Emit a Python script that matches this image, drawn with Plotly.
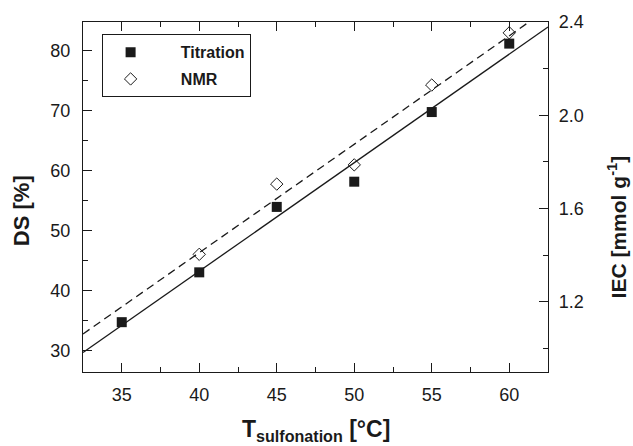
import numpy as np
import plotly.graph_objects as go

# ---- data ----
temps = [35, 40, 45, 50, 55, 60]
ds_titration = [34.8, 43.1, 54.0, 58.2, 69.8, 81.2]
nmr_temps = [40, 45, 50, 55, 60]
ds_nmr = [46.1, 57.8, 61.0, 74.3, 83.0]

x_range = [32.5, 62.5]
y_range = [26.5, 84.8]
y2_range = [0.898, 2.4]

x_ticks = [35, 40, 45, 50, 55, 60]
y_ticks = [30, 40, 50, 60, 70, 80]
y2_ticks = [1.2, 1.6, 2.0, 2.4]

# linear fits
fit_x = np.array(x_range)
p_t = np.polyfit(temps, ds_titration, 1)
p_n = np.polyfit(nmr_temps, ds_nmr, 1)

FONT = "Arial, Liberation Sans, Helvetica, sans-serif"
INK = "#1a1a1a"
PAD = "\u00a0" * 5

fig = go.Figure()
fig.add_trace(go.Scatter(x=fit_x, y=np.polyval(p_t, fit_x), mode="lines",
                         line=dict(color=INK, width=1.3), showlegend=False,
                         hoverinfo="skip"))
fig.add_trace(go.Scatter(x=fit_x, y=np.polyval(p_n, fit_x), mode="lines",
                         line=dict(color=INK, width=1.3, dash="8px,5px"),
                         showlegend=False, hoverinfo="skip"))
fig.add_trace(go.Scatter(x=temps, y=ds_titration, mode="markers", name=PAD + "Titration",
                         legendgroup="a",
                         marker=dict(symbol="square", size=10, color=INK,
                                     line=dict(width=0))))
fig.add_trace(go.Scatter(x=nmr_temps, y=ds_nmr, mode="markers", name=PAD + "NMR",
                         legendgroup="b",
                         marker=dict(symbol="diamond-open", size=9.5, color=INK,
                                     line=dict(width=1))))
# invisible trace to activate the right axis
fig.add_trace(go.Scatter(x=[None], y=[None], yaxis="y2", showlegend=False,
                         hoverinfo="skip"))

axis_common = dict(showline=True, linecolor=INK, linewidth=1.3, showgrid=False,
                   zeroline=False, ticks="inside", ticklen=9, tickwidth=1.3,
                   tickcolor=INK, tickfont=dict(family=FONT, size=18, color=INK))

fig.update_layout(
    width=633, height=446,
    margin=dict(l=83, r=85, t=22, b=74),
    paper_bgcolor="white", plot_bgcolor="white",
    xaxis=dict(range=x_range, tickvals=x_ticks, mirror="ticks",
               minor=dict(ticks="inside", ticklen=5, dtick=2.5, tick0=0,
                          tickcolor=INK, tickwidth=1.3),
               ticklabelstandoff=6, **axis_common),
    yaxis=dict(range=y_range, tickvals=y_ticks,
               minor=dict(ticks="inside", ticklen=5, dtick=5, tick0=0,
                          tickcolor=INK, tickwidth=1.3),
               ticklabelstandoff=8, **axis_common),
    yaxis2=dict(range=y2_range, tickvals=y2_ticks, tickformat=".1f",
                overlaying="y", side="right",
                minor=dict(ticks="inside", ticklen=5, dtick=0.2, tick0=0,
                           tickcolor=INK, tickwidth=1.3),
                ticklabelstandoff=6, **axis_common),
    legend=dict(x=0.04, y=0.965, xanchor="left", yanchor="top",
                bordercolor=INK, borderwidth=1, bgcolor="white",
                itemwidth=46, tracegroupgap=3,
                font=dict(family=FONT, size=16, color=INK, weight="bold")),
    font=dict(family=FONT, color=INK),
)

fig.add_annotation(text="<b>T<sub>sulfonation</sub> [°C]</b>", xref="paper", yref="paper",
                   x=0.5, y=-0.166, xanchor="center", yanchor="middle",
                   showarrow=False, font=dict(family=FONT, size=23, color=INK))
fig.add_annotation(text="<b>DS [%]</b>", xref="paper", yref="paper",
                   x=-0.133, y=0.46, xanchor="center", yanchor="middle", textangle=-90,
                   showarrow=False, font=dict(family=FONT, size=22, color=INK))
fig.add_annotation(text="<b>IEC [mmol g<sup>-1</sup>]</b>", xref="paper", yref="paper",
                   x=1.149, y=0.414, xanchor="center", yanchor="middle", textangle=-90,
                   showarrow=False, font=dict(family=FONT, size=21, color=INK))

fig.write_html("out.html")
